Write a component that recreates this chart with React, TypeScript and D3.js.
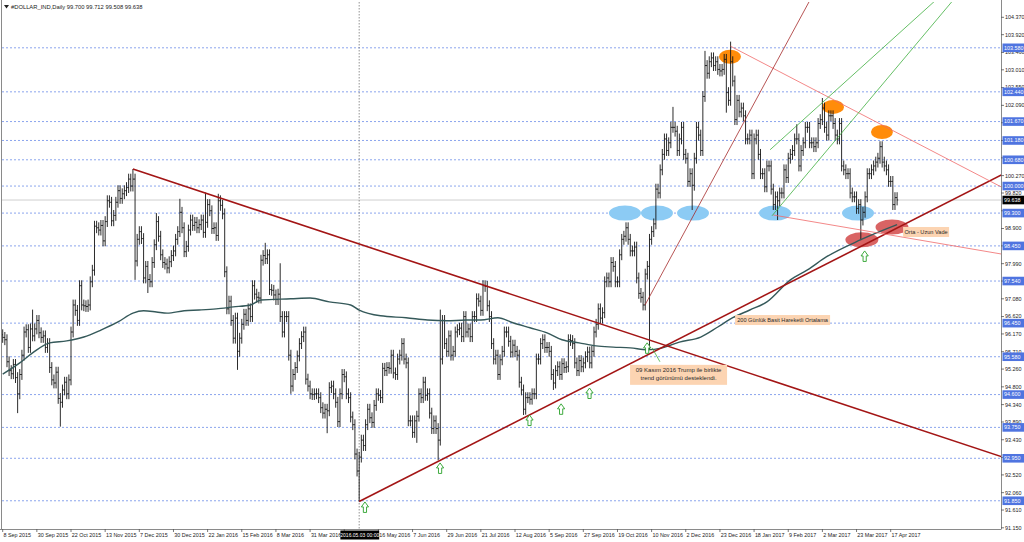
import React from 'react';
import * as d3 from 'd3';

// daily closes, 8 Sep 2015 .. 20 Apr 2017 (bar index = trading day)
const closes = [
  96.08, 96.02, 95.45, 95.22, 95.14, 95.38, 95.04, 94.62, 95.12, 95.62,
  96.22, 96.28, 95.82, 96.30, 96.12, 96.30, 96.52, 96.20, 96.08, 96.12,
  95.82, 95.92, 95.30, 94.98, 94.90, 95.18, 94.50, 94.40, 94.72, 94.92,
  94.62, 94.98, 96.22, 96.92, 96.78, 96.52, 97.42, 96.92, 96.90, 96.88,
  96.92, 97.52, 97.82, 98.96, 98.92, 98.86, 98.98, 98.58, 99.08, 99.62,
  99.58, 99.10, 99.24, 99.58, 99.88, 99.68, 99.80, 99.88, 99.96, 100.18,
  100.00, 100.18, 98.06, 98.62, 98.82, 98.64, 97.62, 97.92, 97.58, 97.52,
  98.02, 98.48, 99.08, 98.70, 98.22, 98.02, 97.98, 97.88, 98.04, 98.20,
  98.32, 98.62, 98.82, 99.32, 98.92, 98.30, 98.44, 98.86, 99.12, 98.98,
  99.06, 98.92, 99.00, 99.12, 98.80, 99.06, 99.52, 99.36, 98.90, 98.92,
  98.72, 99.62, 99.50, 99.28, 97.78, 96.82, 97.02, 96.52, 96.06, 96.58,
  95.72, 96.06, 96.42, 96.68, 96.52, 96.82, 96.62, 97.42, 97.20, 97.12,
  97.10, 98.08, 98.20, 98.12, 98.22, 97.32, 97.30, 97.18, 97.06, 97.20,
  96.62, 96.22, 96.62, 96.62, 95.62, 94.82, 95.12, 95.30, 95.60, 95.92,
  96.10, 96.22, 95.00, 94.82, 94.62, 94.60, 94.62, 94.62, 94.52, 94.26,
  94.12, 94.22, 94.18, 94.78, 94.82, 94.62, 94.40, 93.90, 94.62, 95.12,
  95.06, 94.62, 94.52, 94.02, 93.82, 93.06, 92.62, 92.98, 93.42, 93.28,
  93.82, 94.22, 94.00, 93.88, 94.32, 94.62, 94.58, 94.52, 95.28, 95.22,
  95.30, 95.28, 95.62, 95.16, 95.12, 95.52, 95.62, 95.92, 95.52, 95.42,
  93.92, 93.92, 93.62, 93.92, 94.04, 94.62, 94.52, 94.92, 94.58, 94.62,
  94.12, 93.72, 93.92, 93.72, 93.42, 95.52, 96.52, 95.92, 95.72, 96.12,
  95.62, 95.72, 96.22, 96.28, 96.32, 96.10, 96.62, 96.22, 96.30, 96.10,
  96.62, 96.62, 97.08, 97.02, 96.78, 97.42, 97.40, 96.90, 96.62, 95.92,
  95.52, 95.62, 95.12, 95.50, 95.72, 96.22, 96.22, 95.98, 95.70, 95.88,
  95.72, 95.62, 94.92, 94.72, 94.22, 94.52, 94.52, 94.48, 94.62, 94.62,
  95.52, 95.52, 95.92, 96.02, 95.82, 95.82, 95.72, 95.12, 94.90, 95.22,
  95.32, 95.12, 95.40, 95.30, 95.32, 96.02, 96.00, 95.92, 95.42, 95.22,
  95.48, 95.32, 95.42, 95.58, 95.70, 95.42, 95.72, 96.22, 96.42, 96.82,
  96.58, 96.72, 97.52, 97.62, 97.52, 98.02, 97.92, 97.52, 97.52, 98.22,
  98.62, 98.70, 98.92, 98.62, 98.32, 98.32, 98.42, 97.62, 97.22, 97.12,
  96.92, 97.72, 97.92, 98.62, 98.82, 99.02, 99.92, 99.82, 100.42, 100.82,
  101.22, 100.92, 101.12, 101.52, 101.52, 101.42, 100.92, 101.22, 101.52, 100.82,
  100.72, 100.12, 100.32, 100.02, 100.72, 101.52, 101.32, 100.92, 102.32, 103.12,
  102.92, 103.22, 103.32, 103.12, 103.22, 103.02, 102.98, 103.02, 103.28, 102.42,
  102.22, 103.22, 102.72, 101.72, 102.22, 101.92, 102.02, 101.82, 101.22, 101.22,
  101.32, 100.32, 101.22, 101.32, 100.82, 100.32, 100.32, 99.98, 100.52, 100.52,
  99.92, 99.52, 99.72, 99.62, 99.82, 99.82, 100.42, 100.22, 100.72, 100.82,
  100.92, 101.22, 101.22, 100.52, 100.92, 101.12, 101.52, 101.52, 101.12, 101.12,
  101.02, 101.12, 101.62, 101.72, 102.02, 101.52, 101.32, 101.82, 101.82, 101.62,
  101.32, 101.22, 101.62, 100.52, 100.42, 100.32, 100.32, 99.82, 99.72, 99.72,
  99.42, 99.52, 99.12, 99.32, 99.72, 100.32, 100.32, 100.42, 100.52, 100.62,
  100.72, 101.02, 100.62, 100.52, 100.42, 100.12, 100.12, 99.52, 99.70, 99.64,
];
const firstOpen = 96.15;

// bars whose wick reaches well beyond open/close: [bar, price]
const spikeLows: [number, number][] = [
  [7, 94.12], [27, 93.77], [62, 97.57], [68, 97.23], [110, 95.24], [135, 94.62],
  [152, 93.6], [167, 91.83], [194, 93.35], [204, 92.9], [244, 94.07], [258, 94.72],
  [303, 95.76], [323, 99.38], [339, 101.9], [363, 99.12], [402, 98.6],
];
const spikeHighs: [number, number][] = [
  [14, 96.8], [61, 100.44], [72, 99.3], [83, 99.67], [95, 99.83], [101, 99.8],
  [123, 98.53], [130, 98.0], [141, 96.3], [187, 95.83], [197, 95.05], [205, 96.8],
  [226, 97.5], [292, 98.98], [303, 98.7], [314, 102.05], [329, 103.5], [341, 103.74],
  [372, 101.6], [384, 102.28], [412, 101.1],
];

// 200-day simple moving average, read at these bars
const maBars = [0, 8, 14, 22, 30, 38, 46, 54, 61, 66, 72, 77, 85, 92, 100, 108, 116, 121, 135, 144,
  153, 163, 167, 177, 189, 199, 208, 217, 224, 232, 239, 247, 255, 262, 270, 278, 286, 294, 302,
  309, 317, 327, 335, 342, 350, 358, 369, 377, 386, 402, 419];
const maValues = [95.13, 95.42, 95.68, 95.94, 95.99, 96.09, 96.27, 96.48, 96.71, 96.77, 96.74, 96.71,
  96.77, 96.79, 96.82, 96.87, 96.92, 97.05, 97.08, 97.10, 97.0, 96.92, 96.79, 96.64, 96.59, 96.53,
  96.51, 96.53, 96.53, 96.59, 96.46, 96.33, 96.2, 96.02, 95.94, 95.86, 95.83, 95.81, 95.76, 95.81,
  95.96, 96.09, 96.35, 96.59, 96.79, 97.0, 97.57, 97.83, 98.17, 98.61, 99.0];

const priceTicks = [91.15, 91.61, 92.06, 92.52, 92.97, 93.43, 93.89, 94.34, 94.80, 95.26, 95.71,
  96.17, 96.62, 97.08, 97.54, 97.99, 98.45, 98.90, 99.36, 99.82, 100.27, 100.73, 101.18, 101.64,
  102.09, 102.55, 103.01, 103.46, 103.92, 104.37];
const levelPrices = [103.58, 102.44, 101.67, 101.18, 100.68, 100.00, 99.30, 98.45, 97.54, 96.45,
  95.58, 94.60, 93.75, 92.95, 91.85];
const lastPrice = 99.638;

const dateLabels = ['8 Sep 2015', '30 Sep 2015', '22 Oct 2015', '13 Nov 2015', '7 Dec 2015',
  '30 Dec 2015', '22 Jan 2016', '15 Feb 2016', '8 Mar 2016', '31 Mar 2016', '22 Apr 2016',
  '16 May 2016', '7 Jun 2016', '29 Jun 2016', '21 Jul 2016', '12 Aug 2016', '5 Sep 2016',
  '27 Sep 2016', '19 Oct 2016', '10 Nov 2016', '2 Dec 2016', '23 Dec 2016', '18 Jan 2017',
  '9 Feb 2017', '2 Mar 2017', '23 Mar 2017', '17 Apr 2017'];
const cursorBar = 167;
const cursorLabel = '2016.05.03 00:00';
const title = '#DOLLAR_IND,Daily  99.700 99.712 99.508 99.638';

// drawn objects, in [bar, price]
const blueEllipses: [number, number][] = [[291.5, 99.3], [306.5, 99.3], [323.4, 99.3], [361.8, 99.3], [400.7, 99.3]];
const orangeEllipses: [number, number][] = [[340.7, 103.35], [389.0, 102.05], [411.9, 101.4]];
const redEllipses: [number, number][] = [[402.5, 98.61], [416.6, 98.94]];
const upArrows: [number, number][] = [[169.7, 91.82], [204.9, 92.83], [246.8, 94.07], [261.6, 94.36],
  [274.9, 94.77], [301.9, 95.94], [403.8, 98.32]];

const trendLines = [
  { a: [61, 100.44], b: [226, 97.42], kind: 'main', ray: true },
  { a: [167, 91.83], b: [204, 92.87], kind: 'main', ray: true },
  { a: [341, 103.62], b: [412, 101.58], kind: 'thin', ray: true },
  { a: [361, 99.25], b: [416, 98.73], kind: 'thin', ray: true },
  { a: [300.9, 96.92], b: [370.2, 104.0], kind: 'steep', ray: true },
  { a: [359.5, 100.94], b: [421.8, 104.05], kind: 'green', ray: true },
  { a: [360.4, 99.23], b: [429.7, 103.79], kind: 'green', ray: true },
  { a: [304.2, 95.81], b: [307.9, 95.45], kind: 'green', ray: false },
];

const notes = [
  { lines: ['09 Kasım 2016 Trump ile birlikte', 'trend görünümü desteklendi.'], bar: 293.9, price: 95.37 },
  { lines: ['200 Günlük Basit Hareketli Ortalama'], bar: 343.1, price: 96.66 },
  { lines: ['Orta - Uzun Vade'], bar: 421.8, price: 98.94 },
];

const lineStyle: Record<string, { stroke: string; width: number }> = {
  main: { stroke: '#a31515', width: 1.6 },
  thin: { stroke: '#f06a6a', width: 0.8 },
  steep: { stroke: '#a52a2a', width: 0.8 },
  green: { stroke: '#3fae3f', width: 0.8 },
};
const noteSize = [{ w: 97, h: 20, fs: 6 }, { w: 95, h: 10, fs: 5.6 }, { w: 46, h: 10, fs: 5.6 }];

const FONT = 'Liberation Sans, Arial, sans-serif';
const PL = 2, PR = 1001, PT = 2, PB = 529;
const WICK = 0.14;

export default function App() {
  const x = d3.scaleLinear().domain([0, 416]).range([2.7, 890.7]);
  const y = d3.scaleLinear().domain([91.15, 104.37]).range([527.8, 17.3]);

  const barPath = closes.map((c, i) => {
    const o = i === 0 ? firstOpen : closes[i - 1];
    let hi = Math.max(o, c) + WICK;
    let lo = Math.min(o, c) - WICK;
    const sh = spikeHighs.find(s => s[0] === i);
    if (sh) hi = Math.max(hi, sh[1]);
    const sl = spikeLows.find(s => s[0] === i);
    if (sl) lo = Math.min(lo, sl[1]);
    const xi = x(i);
    return `M${xi.toFixed(2)},${y(hi).toFixed(2)}V${y(lo).toFixed(2)}` +
      `M${(xi - 1.1).toFixed(2)},${y(o).toFixed(2)}H${xi.toFixed(2)}` +
      `M${xi.toFixed(2)},${y(c).toFixed(2)}H${(xi + 1.1).toFixed(2)}`;
  }).join('');

  const maPath = d3.line<number>()
    .x((_, k) => x(maBars[k]))
    .y(v => y(v))
    .curve(d3.curveMonotoneX)(maValues) || '';

  const farBar = 520;
  const lineSeg = (t: typeof trendLines[number]) => {
    const [b1, p1] = t.a;
    const [b2, p2] = t.b;
    if (!t.ray) return { x1: x(b1), y1: y(p1), x2: x(b2), y2: y(p2) };
    const slope = (p2 - p1) / (b2 - b1);
    return { x1: x(b1), y1: y(p1), x2: x(farBar), y2: y(p1 + slope * (farBar - b1)) };
  };

  const arrowPath = (cx: number, ty: number) =>
    `M${cx},${ty}L${cx + 3.6},${ty + 5}L${cx + 1.6},${ty + 5}L${cx + 1.6},${ty + 10.5}` +
    `L${cx - 1.6},${ty + 10.5}L${cx - 1.6},${ty + 5}L${cx - 3.6},${ty + 5}Z`;

  // plain price labels fully covered by a level box are not shown
  const boxPrices = [...levelPrices, lastPrice];
  const visibleTicks = priceTicks.filter(p => boxPrices.every(b => Math.abs(y(p) - y(b)) > 3.5));

  const cx0 = x(cursorBar) - 18.8;
  const cx1 = x(cursorBar) + 20;
  const visibleDates = dateLabels
    .map((d, k) => ({ d, tx: x(k * 16) }))
    .filter(({ tx }) => tx < cx0 - 20 || tx > cx1 - 1);

  return (
    <svg width={1024} height={542} style={{ position: 'absolute', left: 0, top: 0, background: '#fff' }}
      fontFamily={FONT}>
      <defs>
        <clipPath id="plot">
          <rect x={PL} y={PT} width={PR - PL} height={PB - PT} />
        </clipPath>
      </defs>
      <rect x={0} y={0} width={1024} height={542} fill="#fff" />

      <g clipPath="url(#plot)">
        {/* horizontal level lines */}
        {levelPrices.map(p => (
          <line key={p} x1={PL} x2={PR} y1={y(p)} y2={y(p)} stroke="#6d8ee8"
            strokeWidth={0.8} strokeDasharray="2,2" />
        ))}
        <line x1={PL} x2={PR} y1={y(lastPrice)} y2={y(lastPrice)} stroke="#c8c8c8" strokeWidth={0.9} />

        {/* ellipses */}
        {blueEllipses.map(([b, p], k) => (
          <ellipse key={'b' + k} cx={x(b)} cy={y(p)} rx={16} ry={7.5} fill="#8ccbf4" />
        ))}
        {orangeEllipses.map(([b, p], k) => (
          <ellipse key={'o' + k} cx={x(b)} cy={y(p)} rx={11} ry={7} fill="#ff8c0a" />
        ))}
        {redEllipses.map(([b, p], k) => (
          <ellipse key={'r' + k} cx={x(b)} cy={y(p)} rx={16.5} ry={7.5} fill="#d96464" />
        ))}

        {/* cursor line */}
        <line x1={x(cursorBar)} x2={x(cursorBar)} y1={PT} y2={PB} stroke="#777" strokeWidth={0.8}
          strokeDasharray="1.5,1.5" />

        {/* price bars */}
        <path d={barPath} fill="none" stroke="#141414" strokeWidth={0.9} />

        {/* 200 SMA */}
        <path d={maPath} fill="none" stroke="#35595a" strokeWidth={1.4} />

        {/* trend lines */}
        {trendLines.map((t, k) => {
          const s = lineSeg(t);
          const st = lineStyle[t.kind];
          return <line key={'t' + k} {...s} stroke={st.stroke} strokeWidth={st.width} />;
        })}

        {/* arrows */}
        {upArrows.map(([b, p], k) => (
          <path key={'a' + k} d={arrowPath(x(b), y(p))} fill="#fff" stroke="#2aa22a" strokeWidth={0.9} />
        ))}

        {/* notes */}
        {notes.map((n, k) => {
          const sz = noteSize[k];
          const nx = x(n.bar);
          const ny = y(n.price);
          return (
            <g key={'n' + k}>
              <rect x={nx} y={ny} width={sz.w} height={sz.h} fill="#fcd4b2" />
              {n.lines.map((ln, j) => (
                <text key={j} x={nx + sz.w / 2} y={ny + 5 + j * 8} dy="0.35em" textAnchor="middle"
                  fontSize={sz.fs} fill="#2a2a2a">{ln}</text>
              ))}
            </g>
          );
        })}
      </g>

      {/* frame */}
      <line x1={1.5} x2={1.5} y1={0} y2={PB} stroke="#8a8a8a" />
      <line x1={0} x2={PR} y1={PB + 0.5} y2={PB + 0.5} stroke="#8a8a8a" />
      <line x1={PR + 0.5} x2={PR + 0.5} y1={0} y2={PB + 0.5} stroke="#8a8a8a" />

      {/* title */}
      <path d="M4,5 L9,5 L6.5,8.5 Z" fill="#222" />
      <text x={11} y={9} fontSize={5.8} fill="#222">{title}</text>

      {/* price axis */}
      {priceTicks.map(p => (
        <line key={'tk' + p} x1={PR} x2={PR + 3} y1={y(p)} y2={y(p)} stroke="#555" strokeWidth={0.8} />
      ))}
      {visibleTicks.map(p => (
        <text key={p} x={PR + 4} y={y(p)} dy="0.35em" fontSize={5.4} fill="#222">{p.toFixed(3)}</text>
      ))}
      {levelPrices.map(p => (
        <g key={'l' + p}>
          <rect x={PR + 1.5} y={y(p) - 4.3} width={22} height={8.6} fill="#4f74e0" />
          <text x={PR + 3} y={y(p)} dy="0.35em" fontSize={5.4} fill="#fff">{p.toFixed(3)}</text>
        </g>
      ))}
      <rect x={PR + 1.5} y={y(lastPrice) - 4.3} width={22} height={8.6} fill="#000" />
      <text x={PR + 3} y={y(lastPrice)} dy="0.35em" fontSize={5.4} fill="#fff">{lastPrice.toFixed(3)}</text>

      {/* time axis */}
      {dateLabels.map((d, k) => (
        <line key={'dt' + d} x1={x(k * 16)} x2={x(k * 16)} y1={PB} y2={PB + 3} stroke="#555" strokeWidth={0.8} />
      ))}
      {visibleDates.map(({ d, tx }) => (
        <text key={d} x={tx + 0.8} y={PB + 6} dy="0.35em" fontSize={5.4} fill="#222">{d}</text>
      ))}
      <rect x={cx0} y={PB + 1.5} width={cx1 - cx0} height={9} fill="#000" />
      <text x={(cx0 + cx1) / 2} y={PB + 6} dy="0.35em" textAnchor="middle" fontSize={5.0}
        fill="#fff">{cursorLabel}</text>
    </svg>
  );
}
